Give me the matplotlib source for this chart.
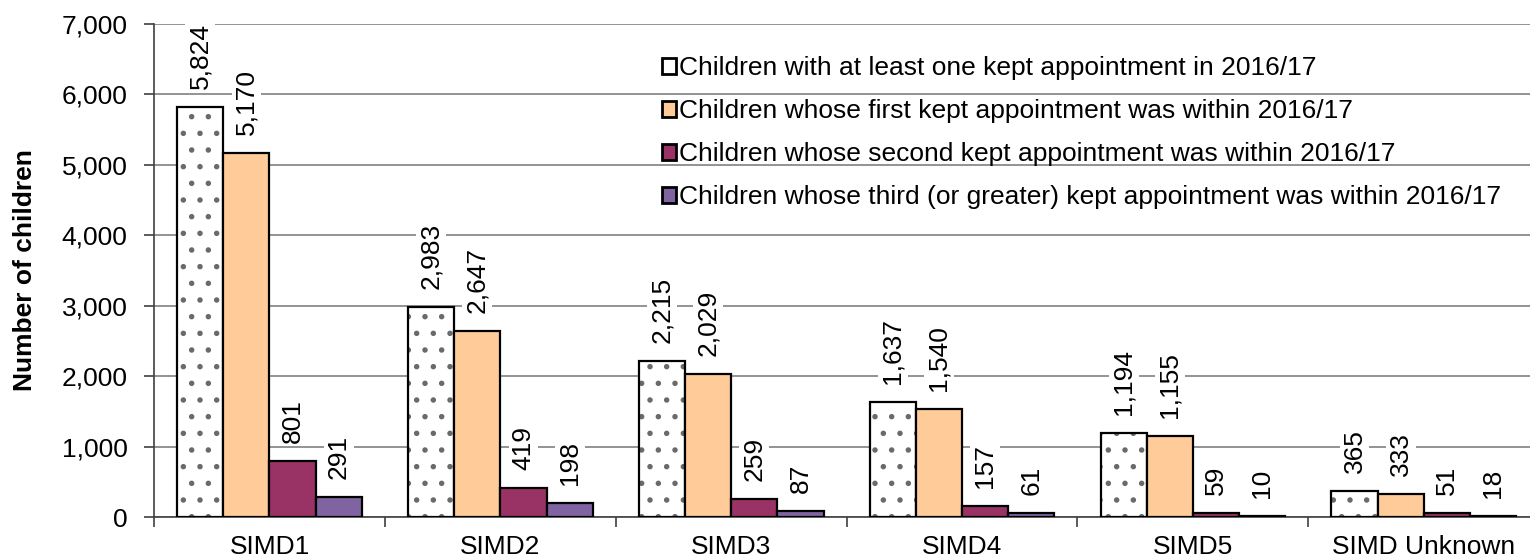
import numpy as np
import matplotlib
matplotlib.use("Agg")
from matplotlib import pyplot as plt
from matplotlib.ticker import FuncFormatter

plt.rcParams['font.family'] = ['Liberation Sans', 'DejaVu Sans']
plt.rcParams['hatch.linewidth'] = 1.5

categories = ["SIMD1", "SIMD2", "SIMD3", "SIMD4", "SIMD5", "SIMD Unknown"]
series_names = [
    "Children with at least one kept appointment in 2016/17",
    "Children whose first kept appointment was within 2016/17",
    "Children whose second kept appointment was within 2016/17",
    "Children whose third (or greater) kept appointment was within 2016/17",
]
at_least_one = [5824, 2983, 2215, 1637, 1194, 365]
first_kept = [5170, 2647, 2029, 1540, 1155, 333]
second_kept = [801, 419, 259, 157, 59, 51]
third_kept = [291, 198, 87, 61, 10, 18]

series = [at_least_one, first_kept, second_kept, third_kept]
colors = ["white", "#FFCC99", "#993366", "#8064A2"]

fs = 19

fig = plt.figure(figsize=(15.3, 5.59), dpi=100)
ax = fig.add_axes([0.1007, 0.075, 0.9053, 0.882])

x = np.arange(len(categories))
width = 0.2
for i, (vals, col) in enumerate(zip(series, colors)):
    pos = x + (i - 1.5) * width
    if i == 0:
        # dotted pattern in grey, then black outline on top
        ax.bar(pos, vals, width, color="white", edgecolor="#6a6a6a",
               hatch=".", linewidth=0, zorder=2)
        ax.bar(pos, vals, width, fill=False, edgecolor="black",
               linewidth=1.6, zorder=3, label=series_names[i])
    else:
        ax.bar(pos, vals, width, color=col, edgecolor="black",
               linewidth=1.6, zorder=3, label=series_names[i])
    for p, v in zip(pos, vals):
        ax.annotate(f"{v:,}", (p, v), xytext=(0, 13), textcoords="offset points",
                    rotation=90, ha="center", va="bottom", fontsize=fs, zorder=4,
                    annotation_clip=False,
                    bbox=dict(facecolor="white", edgecolor="none", pad=2))

ax.set_xlim(-0.5, len(categories) - 0.5)
ax.set_ylim(0, 7000)
ax.set_yticks(np.arange(0, 7001, 1000))
ax.yaxis.set_major_formatter(FuncFormatter(lambda v, p: f"{int(v):,}"))
ax.grid(axis="y", color="#808080", linewidth=1.2, zorder=0)
ax.set_axisbelow(True)

ax.set_xticks(x)
ax.set_xticklabels(categories)
ax.set_xticks(np.arange(-0.5, len(categories), 1), minor=True)
ax.tick_params(axis="x", which="major", length=0, labelsize=fs, pad=13)
ax.tick_params(axis="x", which="minor", length=7, direction="out", width=1.2, color="#404040")
ax.tick_params(axis="y", labelsize=fs, length=7, width=1.2, color="#404040", pad=12)

ax.spines["top"].set_visible(False)
ax.spines["right"].set_visible(False)
ax.spines["left"].set_color("#404040")
ax.spines["bottom"].set_color("#404040")
ax.spines["left"].set_linewidth(1.2)
ax.spines["bottom"].set_linewidth(1.2)

ax.set_ylabel("Number of children", fontsize=fs, fontweight="bold", labelpad=18)

leg = ax.legend(loc="upper right", bbox_to_anchor=(0.982, 0.962), frameon=False,
                fontsize=fs, handlelength=0.55, handleheight=0.55,
                handletextpad=0.1, labelspacing=0.72, borderpad=0)
for h in leg.legend_handles:
    h.set_linewidth(2)

fig.savefig("out.png", dpi=100)
